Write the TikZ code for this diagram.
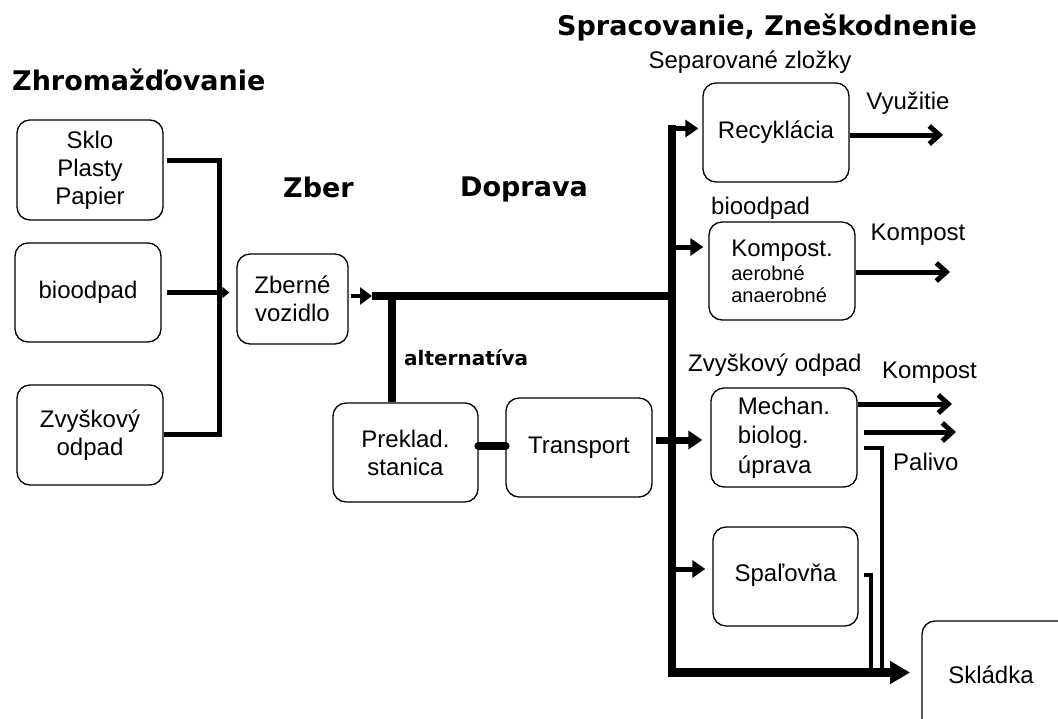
\documentclass[tikz,border=0pt]{standalone}
\usepackage{fontspec}
\setmainfont{Liberation Sans}
\newfontfamily\titlefont{DejaVu Sans}
\usetikzlibrary{arrows.meta}
\newcommand{\smalltxt}[1]{{\fontsize{20}{22}\selectfont #1}}
\begin{document}
\begin{tikzpicture}[x=1pt,y=-1pt,
  box/.style={draw,line width=1.3pt,rounded corners=13pt,inner sep=0pt,align=center,
    minimum width=146pt,minimum height=100pt,font=\fontsize{24}{28}\selectfont},
  lbl/.style={inner sep=0pt,font=\fontsize{24}{28}\selectfont},
  ttl/.style={inner sep=0pt,font=\titlefont\bfseries\fontsize{27}{32}\selectfont},
  feed/.style={line width=4.5pt},
  trunk/.style={line width=8.5pt},
  branch/.style={line width=5pt,-{Triangle[length=13pt,width=17pt]}},
  outarr/.style={line width=5pt,-{Straight Barb[length=10pt,width=18pt]}}]
\useasboundingbox (0,0) rectangle (1058,718);
\fill[white] (0,0) rectangle (1058,718);

% titles
\node[ttl,anchor=base west] (tzhro) at (12,90) {Zhromažďovanie};
\node[ttl,anchor=base west] (tzber) at (283,197) {Zber};
\node[ttl,anchor=base west] (tdopr) at (460,196) {Doprava};
\node[ttl,anchor=base west] (tspr) at (557,35) {Spracovanie, Zneškodnenie};
\node[inner sep=0pt,anchor=base west,font=\titlefont\bfseries\fontsize{20}{24}\selectfont] (talt) at (404,365) {alternatíva};

% boxes
\node[box] (sklo) at (90,170) {Sklo\\Plasty\\Papier};
\node[box,minimum width=146pt,minimum height=99pt] (bio) at (88,292.5) {bioodpad};
\node[box] (zvys) at (90,435) {Zvyškový\\odpad};
\node[box,minimum width=111pt,minimum height=90pt] (zberne) at (292.5,299) {Zberné\\vozidlo};
\node[box,minimum width=145pt,minimum height=99pt] (preklad) at (405.5,452.5) {Preklad.\\stanica};
\node[box,minimum height=99pt] (transport) at (579,447.5) {Transport};
\node[box,minimum height=99pt] (recyk) at (776,132.5) {Recyklácia};
\node[box,minimum height=98pt,align=left] (kompost) at (782,271)
  {Kompost.\\[-4pt]\smalltxt{aerobné}\\[-6pt]\smalltxt{anaerobné}};
\node[box,minimum height=99pt,align=left,font=\fontsize{24}{29.5}\selectfont] (mechan) at (784,437.5) {Mechan.\\biolog.\\úprava};
\node[box,minimum width=145pt,minimum height=99pt] (spal) at (785.5,576.5) {\raisebox{7pt}{Spaľovňa}};
\node[lbl] (sklad) at (991,675) {Skládka};
\coordinate (skl) at (922,672.5);
\draw[line width=1.3pt,rounded corners=13pt] (skl|-0,740) -- (skl|-0,621) -- (1090,621);

% labels
\node[lbl] (lsep) at (750,62) {Separované zložky};
\node[lbl] (lvyu) at (908,103) {Využitie};
\node[lbl] (lkomp1) at (918,235) {Kompost};
\node[lbl,anchor=west] (lbio) at (711,208) {bioodpad};
\node[lbl,anchor=west] (lzvys) at (688,365) {Zvyškový odpad};
\node[lbl,anchor=west] (lkomp2) at (882,373) {Kompost};
\node[lbl,anchor=west] (lpal) at (893,462) {Palivo};

% collection bus
\coordinate (lb1) at (219.5,160.5);
\coordinate (lb2) at (219.5,434.5);
\draw[feed,shorten <=3pt] (sklo.east|-lb1) -- (lb1) -- (lb2) -- (zvys.east|-lb2);
\draw[feed,-{Triangle[length=7pt,width=11pt]},shorten <=5pt,shorten >=7pt]
  (bio.east) -- (zberne.west|-bio.east);

% main line
\coordinate (m1) at (372,296);
\coordinate (jm) at (676,296);
\coordinate (jp) at (392,296);
\coordinate (jt) at (672,125);
\coordinate (jr) at (672,128.5);
\coordinate (jk) at (672,247);
\coordinate (js) at (672,569);
\coordinate (jb) at (672,672.5);
\draw[line width=4pt,-{Triangle[length=12pt,width=17pt]},shorten <=2pt] (zberne.east|-m1) -- (m1);
\draw[trunk] (m1) -- (jm);
\draw[trunk] (jp) -- (jp|-preklad.north);
\coordinate (pt) at (0,446);
\draw[trunk,line cap=round] (preklad.east|-pt) -- (transport.west|-pt);
\draw[trunk,-{Triangle[length=20pt,width=22pt]},shorten >=12pt] (jt) -- (jb) -- (skl);

% branches
\draw[branch,shorten >=4pt] (jr) -- (recyk.west|-jr);
\draw[branch,shorten >=5pt] (jk) -- (kompost.west|-jk);
\coordinate (jx) at (0,440);
\draw[line width=7pt,-{Triangle[length=14pt,width=18pt]},shorten <=3pt,shorten >=8pt]
  (transport.east|-jx) -- (mechan.west|-jx);
\draw[branch,shorten >=7pt] (js) -- (spal.west|-js);

% outputs
\coordinate (o1) at (943,135);
\coordinate (o2) at (950,272);
\coordinate (o3) at (952,404);
\coordinate (o4) at (956,432);
\coordinate (o5) at (882,448);
\coordinate (o6) at (871,575);
\draw[outarr] (recyk.east|-o1) -- (o1);
\draw[outarr] (kompost.east|-o2) -- (o2);
\draw[outarr] (mechan.east|-o3) -- (o3);
\draw[outarr,shorten <=6pt] (mechan.east|-o4) -- (o4);
\draw[line width=4.5pt,shorten <=6pt] (mechan.east|-o5) -- (o5) -- (o5|-jb);
\draw[line width=3.5pt,shorten <=5pt] (spal.east|-o6) -- (o6) -- (o6|-jb);
\end{tikzpicture}
\end{document}
